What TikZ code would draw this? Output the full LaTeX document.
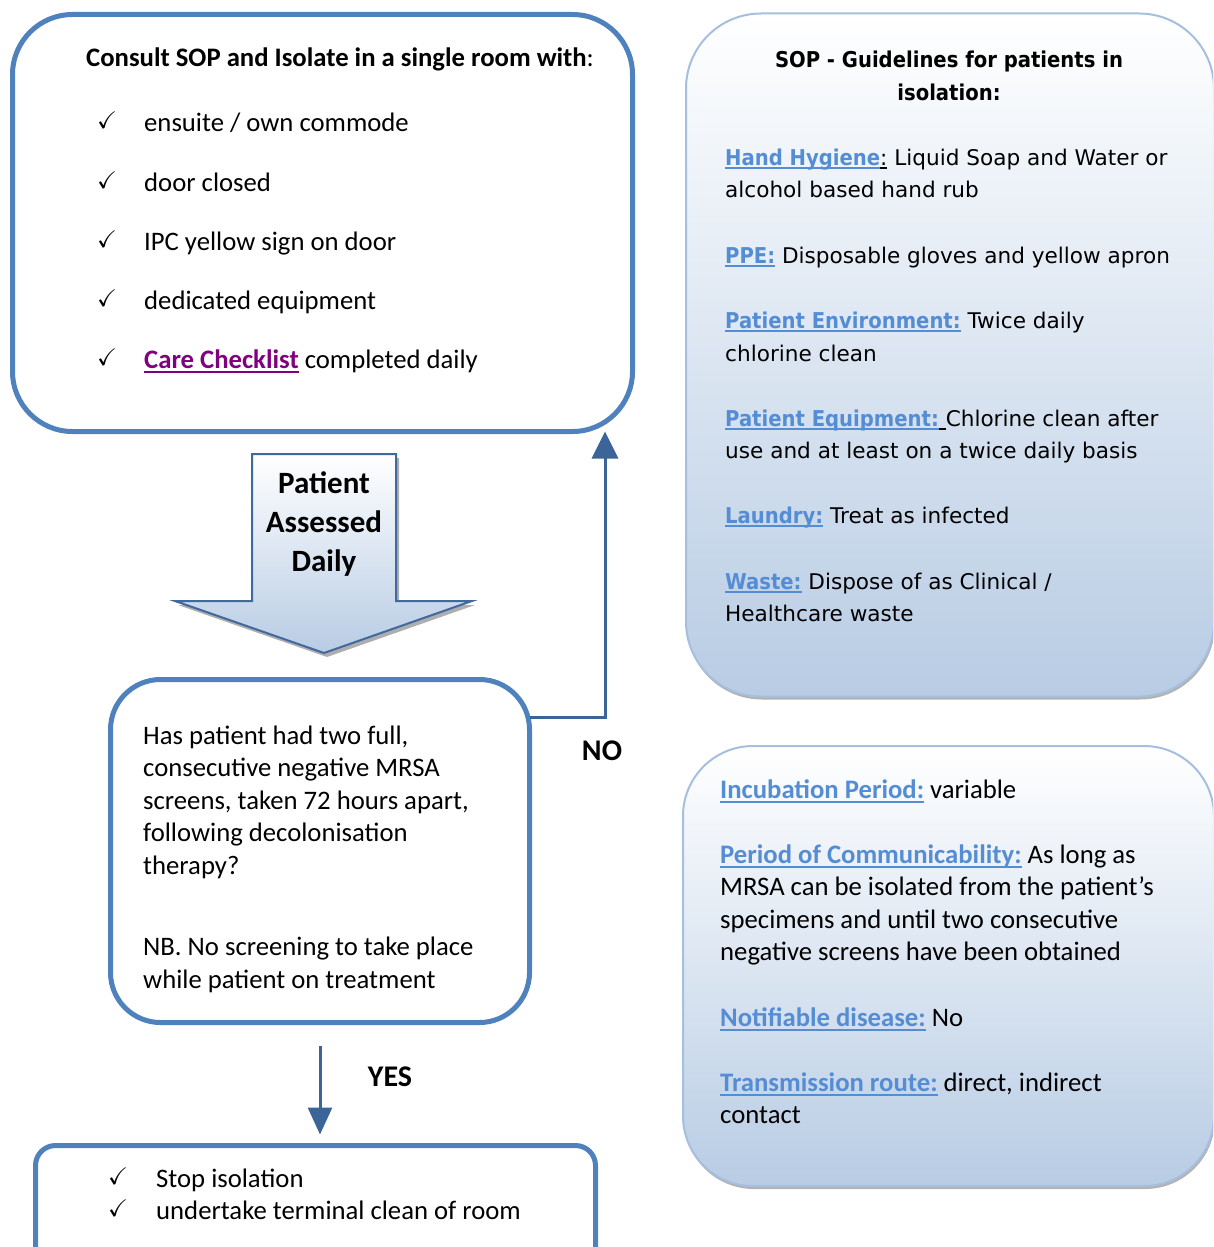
\documentclass[tikz,border=0pt]{standalone}
\usepackage{fontspec}
\setmainfont{Carlito}
\newfontfamily\verd{DejaVu Sans}
\newfontfamily\verdc{DejaVu Sans Condensed}
\usepackage{amssymb}
\usetikzlibrary{arrows.meta,calc,shadows}
\definecolor{boxblue}{HTML}{4F81BD}
\definecolor{darkblue}{HTML}{3B6499}
\definecolor{linkblue}{HTML}{548DD4}
\definecolor{paleblue}{HTML}{B8CCE4}
\definecolor{rimblue}{HTML}{A7BFDE}
\definecolor{arrowrim}{HTML}{41699E}
\definecolor{chkpurple}{HTML}{800080}
\newcommand\ulx[2]{{\color{#1}\setbox0\hbox{#2}\rlap{\rule[-0.16em]{\wd0}{0.07em}}\box0}}
\newcommand\vb[1]{{\verdc\bfseries\fontsize{21.8}{32}\selectfont #1}}
\begin{document}
\begin{tikzpicture}[x=1pt,y=-1pt,
  flowbox/.style={draw=boxblue, line width=5pt, fill=white, inner sep=0pt, outer sep=0pt},
  sopbox/.style={draw=rimblue, line width=2pt, top color=white, bottom color=paleblue,
    inner sep=0pt, outer sep=0pt,
    drop shadow={shadow xshift=1pt, shadow yshift=-3pt, fill=black!50, opacity=.6}},
  body/.style={anchor=mid west, inner sep=0pt, yshift=-6pt, font=\fontsize{26.7}{32}\selectfont},
  vbody/.style={anchor=mid west, inner sep=0pt, yshift=-6pt, font=\verd\fontsize{21.6}{32}\selectfont},
  vtitle/.style={anchor=mid, inner sep=0pt, yshift=-6pt, font=\verdc\bfseries\fontsize{21.8}{32}\selectfont},
  chk/.style={anchor=mid, inner sep=0pt, yshift=-5pt, font=\fontsize{24}{24}\selectfont},
  lbl/.style={anchor=mid, inner sep=0pt, yshift=-6pt, font=\bfseries\fontsize{30}{30}\selectfont},
  arrtxt/.style={anchor=mid, inner sep=0pt, yshift=-6pt, font=\bfseries\fontsize{31}{31}\selectfont},
  conn/.style={draw=darkblue, line width=3pt, -{Triangle[width=26pt,length=27pt]}}
]
\useasboundingbox (0,0) rectangle (1213,1247);
\clip (0,0) rectangle (1213,1247);
\fill[white] (0,0) rectangle (1213,1247);

% ---- left flow boxes
\node[flowbox, rounded corners=60pt, minimum width=620pt, minimum height=417pt] (box1) at (322.5,223) {};
\node[flowbox, rounded corners=50pt, minimum width=419pt, minimum height=343pt] (box2) at (320,851) {};
\node[flowbox, rounded corners=20pt, minimum width=560pt, minimum height=145pt] (box3) at (315.5,1218) {};

% ---- right SOP boxes
\node[sopbox, rounded corners=75pt, minimum width=528pt, minimum height=683pt] (sop1) at (950,355) {};
\node[sopbox, rounded corners=70pt, minimum width=531pt, minimum height=440pt] (sop2) at (948.5,966) {};

% ---- block arrow "Patient Assessed Daily"
\fill[black!45, opacity=.7] (255,458) -- (399,458) -- (399,605) -- (475,605) -- (327,657) -- (178,605) -- (255,605) -- cycle;
\draw[draw=arrowrim, line width=2pt, top color=white, bottom color=paleblue]
  (252,454) -- (396,454) -- (396,601) -- (472,601) -- (324,653) -- (175,601) -- (252,601) -- cycle;
\node[arrtxt] (pa1) at (324,485) {Patient};
\node[arrtxt] (pa2) at (324,524) {Assessed};
\node[arrtxt] (pa3) at (324,563) {Daily};

% ---- connectors
\coordinate (noX) at (605,0);
\draw[conn] ([yshift=-38pt]box2.north east) -| (noX |- box1.south);
\node[lbl] (no) at (602,752) {NO};
\draw[conn, -{Triangle[width=24pt,length=27pt]}] ([yshift=-23pt]box2.south) -- ([yshift=11pt]box3.north -| box2.south);
\node[lbl] (yes) at (390,1078) {YES};

% ---- box1 text
\node[anchor=mid, inner sep=0pt, yshift=-6pt, font=\fontsize{26.7}{32}\selectfont] (t0) at (340,58) {{\bfseries Consult SOP and Isolate in a single room with}:};
\node[chk] (c1) at (107,121) {$\checkmark$};
\node[chk] (c2) at (107,181) {$\checkmark$};
\node[chk] (c3) at (107,240) {$\checkmark$};
\node[chk] (c4) at (107,299) {$\checkmark$};
\node[chk] (c5) at (107,358) {$\checkmark$};
\node[body] (t1) at (144,123) {ensuite / own commode};
\node[body] (t2) at (144,183) {door closed};
\node[body] (t3) at (144,242) {IPC yellow sign on door};
\node[body] (t4) at (144,301) {dedicated equipment};
\node[body] (t5) at (144,360) {\ulx{chkpurple}{\bfseries Care Checklist} completed daily};

% ---- box2 text
\node[body] (q1) at (143,736) {Has patient had two full,};
\node[body] (q2) at (143,768) {consecutive negative MRSA};
\node[body] (q3) at (143,801) {screens, taken 72 hours apart,};
\node[body] (q4) at (143,833) {following decolonisation};
\node[body] (q5) at (143,866) {therapy?};
\node[body] (q6) at (143,947) {NB. No screening to take place};
\node[body] (q7) at (143,980) {while patient on treatment};

% ---- box3 text
\node[chk] (c6) at (118,1177) {$\checkmark$};
\node[chk] (c7) at (118,1209) {$\checkmark$};
\node[body] (s1) at (156,1179) {Stop isolation};
\node[body] (s2) at (156,1211) {undertake terminal clean of room};

% ---- SOP box 1 text
\node[vtitle] (h1) at (949,59) {SOP - Guidelines for patients in};
\node[vtitle] (h2) at (949,92) {isolation:};
\node[vbody] (g1) at (725,157) {\ulx{linkblue}{\vb{Hand Hygiene}}\ulx{black}{:} Liquid Soap and Water or};
\node[vbody] (g2) at (725,189) {alcohol based hand rub};
\node[vbody] (g3) at (725,255) {\ulx{linkblue}{\vb{PPE:}} Disposable gloves and yellow apron};
\node[vbody] (g4) at (725,320) {\ulx{linkblue}{\vb{Patient Environment:}} Twice daily};
\node[vbody] (g5) at (725,353) {chlorine clean};
\node[vbody] (g6) at (725,418) {\ulx{linkblue}{\vb{Patient Equipment:}}\ulx{black}{\ }Chlorine clean after};
\node[vbody] (g7) at (725,450) {use and at least on a twice daily basis};
\node[vbody] (g8) at (725,515) {\ulx{linkblue}{\vb{Laundry:}} Treat as infected};
\node[vbody] (g9) at (725,581) {\ulx{linkblue}{\vb{Waste:}} Dispose of as Clinical /};
\node[vbody] (g10) at (725,613) {Healthcare waste};

% ---- SOP box 2 text
\node[body] (p1) at (720,790) {\ulx{linkblue}{\bfseries Incubation Period:} variable};
\node[body] (p2) at (720,855) {\ulx{linkblue}{\bfseries Period of Communicability:} As long as};
\node[body] (p3) at (720,887) {MRSA can be isolated from the patient’s};
\node[body] (p4) at (720,920) {specimens and until two consecutive};
\node[body] (p5) at (720,952) {negative screens have been obtained};
\node[body] (p6) at (720,1018) {\ulx{linkblue}{\bfseries Notifiable disease:} No};
\node[body] (p7) at (720,1083) {\ulx{linkblue}{\bfseries Transmission route:} direct, indirect};
\node[body] (p8) at (720,1115) {contact};
\end{tikzpicture}
\end{document}
